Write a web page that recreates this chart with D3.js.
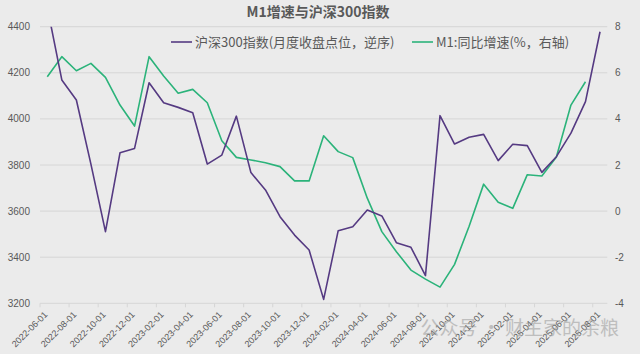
<!DOCTYPE html>
<html>
<head>
<meta charset="utf-8">
<script src="https://cdn.jsdelivr.net/npm/d3@7"></script>
<style>
  html, body { margin: 0; padding: 0; background: #ebebeb; }
  svg { display: block; font-family: "Liberation Sans", Arial, sans-serif; }
</style>
</head>
<body>
<svg id="chart" width="640" height="354"></svg>
<script>
// monthly categories
const months = [
	"2022-06-01","2022-07-01","2022-08-01","2022-09-01","2022-10-01","2022-11-01","2022-12-01",
	"2023-01-01","2023-02-01","2023-03-01","2023-04-01","2023-05-01","2023-06-01","2023-07-01",
	"2023-08-01","2023-09-01","2023-10-01","2023-11-01","2023-12-01","2024-01-01","2024-02-01",
	"2024-03-01","2024-04-01","2024-05-01","2024-06-01","2024-07-01","2024-08-01","2024-09-01",
	"2024-10-01","2024-11-01","2024-12-01","2025-01-01","2025-02-01","2025-03-01","2025-04-01",
	"2025-05-01","2025-06-01","2025-07-01","2025-08-01"
];

// 沪深300 month-end close (left axis)
const hs300 = [
	4485, 4169, 4082, 3804, 3511, 3853, 3872,
	4157, 4070, 4050, 4027, 3804, 3843, 4012,
	3767, 3692, 3576, 3496, 3431, 3217, 3515,
	3532, 3605, 3579, 3463, 3443, 3320, 4014,
	3891, 3920, 3933, 3819, 3890, 3884, 3768,
	3836, 3938, 4075, 4378
];

// M1 yoy % (right axis), no value for last month
const m1 = [
	5.83, 6.70, 6.09, 6.41, 5.80, 4.60, 3.69,
	6.70, 5.86, 5.11, 5.28, 4.70, 3.05, 2.33,
	2.22, 2.10, 1.93, 1.31, 1.31, 3.27, 2.58,
	2.32, 0.56, -0.89, -1.76, -2.56, -2.95, -3.30,
	-2.31, -0.66, 1.17, 0.38, 0.12, 1.58, 1.52,
	2.35, 4.60, 5.61, null
];

const leftTicks = [3200, 3400, 3600, 3800, 4000, 4200, 4400];
const rightTicks = [-4, -2, 0, 2, 4, 6, 8];

const titleText = "M1增速与沪深300指数";
const legendItems = [
	{ name: "沪深300指数(月度收盘点位，逆序)", color: "#553a82" },
	{ name: "M1:同比增速(%，右轴)", color: "#2bb37a" }
];

const width = 640, height = 354;
const margin = { top: 26.7, right: 32.7, bottom: 50.7, left: 40 };
const svg = d3.select("#chart");

const x = d3.scaleBand()
	.domain(months)
	.range([margin.left, width - margin.right]);
const cx = d => x(d) + x.bandwidth() / 2;

const yL = d3.scaleLinear()
	.domain([3200, 4400])
	.range([height - margin.bottom, margin.top]);
const yR = d3.scaleLinear()
	.domain([-4, 8])
	.range([height - margin.bottom, margin.top]);

// gridlines
svg.append("g")
	.selectAll("line")
	.data(leftTicks)
	.join("line")
	.attr("x1", margin.left)
	.attr("x2", width - margin.right)
	.attr("y1", d => yL(d))
	.attr("y2", d => yL(d))
	.style("stroke", "#d6d6d6")
	.style("stroke-width", 1);

// x tick marks every two months
const labelMonths = months.filter((d, i) => i % 2 === 0);
svg.append("g")
	.selectAll("line")
	.data(labelMonths)
	.join("line")
	.attr("x1", d => x(d))
	.attr("x2", d => x(d))
	.attr("y1", yL(3200))
	.attr("y2", yL(3200) + 4)
	.style("stroke", "#d6d6d6");

// left axis labels
svg.append("g")
	.selectAll("text")
	.data(leftTicks)
	.join("text")
	.attr("x", 30)
	.attr("y", d => yL(d) + 3.5)
	.attr("text-anchor", "end")
	.style("font-size", "10px")
	.style("fill", "#595959")
	.text(d => d);

// right axis labels
svg.append("g")
	.selectAll("text")
	.data(rightTicks)
	.join("text")
	.attr("x", 615)
	.attr("y", d => yR(d) + 3.5)
	.attr("text-anchor", "start")
	.style("font-size", "10px")
	.style("fill", "#595959")
	.text(d => d);

// x labels, rotated
svg.append("g")
	.selectAll("text")
	.data(labelMonths)
	.join("text")
	.attr("transform", d => `translate(${x(d) + 8},${yL(3200) + 12}) rotate(-45)`)
	.attr("text-anchor", "end")
	.style("font-size", "9px")
	.style("fill", "#595959")
	.text(d => d);

// clip to plot area
svg.append("clipPath")
	.attr("id", "plotClip")
	.append("rect")
	.attr("x", margin.left)
	.attr("y", margin.top)
	.attr("width", width - margin.left - margin.right)
	.attr("height", height - margin.top - margin.bottom);

const plot = svg.append("g").attr("clip-path", "url(#plotClip)");

const lineL = d3.line()
	.x((d, i) => cx(months[i]))
	.y(d => yL(d));
const lineR = d3.line()
	.defined(d => d !== null)
	.x((d, i) => cx(months[i]))
	.y(d => yR(d));

plot.append("path")
	.datum(m1)
	.attr("d", lineR)
	.style("fill", "none")
	.style("stroke", legendItems[1].color)
	.style("stroke-width", 1.6)
	.style("stroke-linejoin", "round");

plot.append("path")
	.datum(hs300)
	.attr("d", lineL)
	.style("fill", "none")
	.style("stroke", legendItems[0].color)
	.style("stroke-width", 1.6)
	.style("stroke-linejoin", "round");

// title
svg.append("text")
	.attr("x", 318)
	.attr("y", 17)
	.attr("text-anchor", "middle")
	.style("font-family", "'Noto Sans CJK SC', sans-serif")
	.style("font-size", "14px")
	.style("font-weight", "bold")
	.style("fill", "#595959")
	.text(titleText);

// legend
const legendX = [171, 412];
const legend = svg.append("g")
	.selectAll("g")
	.data(legendItems)
	.join("g")
	.attr("transform", (d, i) => `translate(${legendX[i]},42)`);

legend.append("line")
	.attr("x1", 0)
	.attr("x2", 21)
	.style("stroke", d => d.color)
	.style("stroke-width", 1.6);

legend.append("text")
	.attr("x", 24)
	.attr("y", 4.5)
	.style("font-family", "'Noto Sans CJK SC', sans-serif")
	.style("font-size", "13px")
	.style("fill", "#595959")
	.text(d => d.name);

// watermark
svg.append("text")
	.attr("x", 619)
	.attr("y", 335)
	.attr("text-anchor", "end")
	.style("font-family", "'Noto Sans CJK SC', sans-serif")
	.style("font-size", "19px")
	.style("fill", "#9a9a9a")
	.style("opacity", 0.55)
	.text("公众号 · 财主家的余粮");
</script>
</body>
</html>
